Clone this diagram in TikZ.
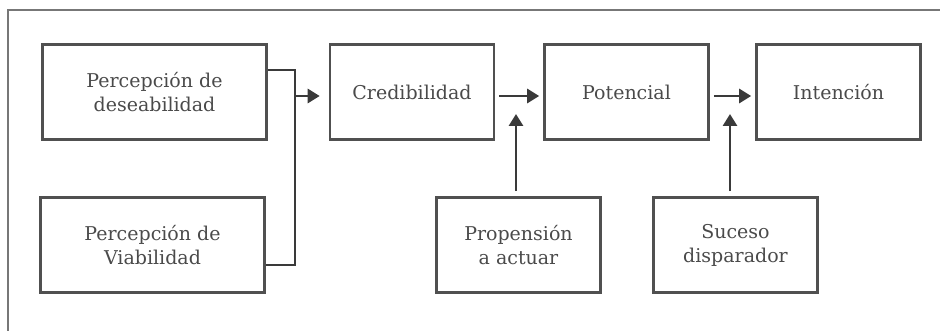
\documentclass[tikz,border=0pt]{standalone}
\usepackage{fontspec}
\setmainfont{DejaVu Serif}
\usetikzlibrary{arrows.meta,calc}
\definecolor{boxc}{HTML}{505050}
\definecolor{linec}{HTML}{3A3A3A}
\definecolor{framec}{HTML}{777777}
\definecolor{txtc}{HTML}{4A4A4A}
\tikzset{
  box/.style={draw=boxc,line width=2.6pt,minimum width=224pt,minimum height=95pt,inner sep=0pt,
    align=center,text=txtc,font=\fontsize{19}{24}\selectfont},
  sbox/.style={box,minimum width=164pt},
  conn/.style={draw=linec,line width=2.8pt},
  arr/.style={conn,-{Triangle[length=12pt,width=14pt]}},
}
\begin{document}
\begin{tikzpicture}[x=1pt,y=-1pt]
\useasboundingbox (0,0) rectangle (940,331);
\draw[framec,line width=2.4pt] (8,340) -- (8,10) -- (950,10);
\node[box] (des) at (154.5,92) {Percepción de\\deseabilidad};
\node[box] (via) at (152.5,245) {Percepción de\\Viabilidad};
\node[sbox] (cred) at (412,92) {Credibilidad};
\node[sbox] (pot) at (626.5,92) {Potencial};
\node[sbox] (int) at (838.5,92) {Intención};
\node[sbox] (prop) at (518.5,245) {Propensión\\a actuar};
\node[sbox] (suc) at (735.5,245) {Suceso\\disparador};
\coordinate (j) at (295,96);
\coordinate (t1) at (516,114);
\coordinate (t2) at (730,114);
\draw[conn] ([yshift=22pt]des.east) -| (j) |- ([yshift=-20pt]via.east);
\draw[arr,shorten >=9pt] (j) -- (cred.west|-j);
\draw[arr,shorten <=4pt,shorten >=4pt] (cred.east|-j) -- (pot.west|-j);
\draw[arr,shorten <=4pt,shorten >=4pt] (pot.east|-j) -- (int.west|-j);
\draw[arr,shorten <=5pt] (prop.north-|t1) -- (t1);
\draw[arr,shorten <=5pt] (suc.north-|t2) -- (t2);
\end{tikzpicture}
\end{document}
